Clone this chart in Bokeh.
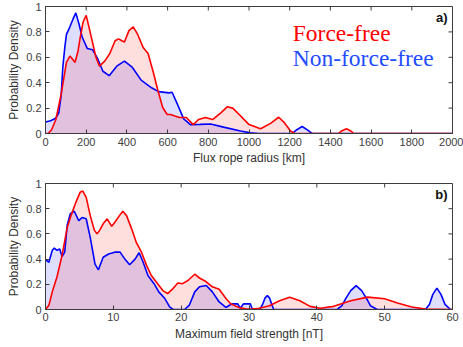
import math
from bokeh.plotting import figure
from bokeh.models import Range1d, FixedTicker, Label
from bokeh.layouts import column
from bokeh.embed import file_html
from bokeh.resources import INLINE

# ---- panel a: flux rope radius [km]
radius_ff_x = [0, 12, 30, 51, 77, 103, 120, 135, 145, 160, 171, 185, 200, 222, 248, 265, 291, 316,
               342, 359, 375, 388, 410, 431, 453, 479, 504, 530, 552, 576, 598, 615, 632, 658, 692,
               726, 752, 786, 821, 863, 893, 920, 958, 1000, 1057, 1106, 1146, 1171, 1204, 1225,
               1440, 1455, 1479, 1500, 1515, 2000]
radius_ff_y = [0, 0, 0.03, 0.11, 0.31, 0.56, 0.61, 0.58, 0.56, 0.65, 0.76, 0.88, 0.93, 0.78, 0.6,
               0.53, 0.57, 0.63, 0.73, 0.745, 0.73, 0.72, 0.81, 0.84, 0.78, 0.68, 0.63, 0.48, 0.34,
               0.205, 0.15, 0.15, 0.14, 0.126, 0.126, 0.07, 0.11, 0.126, 0.11, 0.165, 0.21, 0.2,
               0.14, 0.07, 0.037, 0.08, 0.128, 0.09, 0.02, 0, 0, 0.02, 0.037, 0.02, 0, 0]
radius_nff_x = [0, 25, 50, 65, 77, 85, 95, 103, 120, 135, 149, 165, 180, 205, 231, 256, 282, 313,
                350, 388, 427, 470, 521, 556, 607, 622, 647, 679, 712, 760, 811, 875, 958, 1007,
                1050, 1212, 1235, 1261, 1285, 1310, 2000]
radius_nff_y = [0.09, 0.1, 0.12, 0.16, 0.3, 0.52, 0.68, 0.78, 0.84, 0.9, 0.95, 0.86, 0.76, 0.67,
                0.66, 0.59, 0.49, 0.455, 0.53, 0.57, 0.52, 0.42, 0.36, 0.33, 0.32, 0.325, 0.235,
                0.115, 0.07, 0.072, 0.075, 0.05, 0.02, 0.005, 0, 0, 0.03, 0.055, 0.03, 0, 0]
radius_ticks = [0, 200, 400, 600, 800, 1000, 1200, 1400, 1600, 1800, 2000]

# ---- panel b: maximum field strength [nT]
field_ff_x = [0, 0.5, 1.0, 1.7, 2.44, 3.2, 3.76, 4.4, 5.1, 5.5, 6.0, 6.6, 7.2, 7.6, 8.0, 8.5, 9.1,
              9.75, 10.2, 10.9, 11.4, 11.95, 12.7, 13.4, 14.15, 14.9, 15.6, 16.3, 17.3, 18.0, 18.8,
              19.5, 20.2, 21.0, 22.0, 22.7, 23.7, 24.6, 25.6, 26.6, 27.3, 28.5, 29.5, 30.5, 31.5,
              33.0, 34.5, 36.0, 37.5, 39.0, 40.5, 42.5, 45.0, 47.5, 50.0, 52.0, 54.0, 56.0, 60]
field_ff_y = [0, 0.034, 0.14, 0.26, 0.43, 0.65, 0.745, 0.84, 0.93, 0.94, 0.89, 0.745, 0.63, 0.6,
              0.63, 0.68, 0.72, 0.66, 0.69, 0.745, 0.78, 0.745, 0.64, 0.53, 0.455, 0.35, 0.27, 0.22,
              0.15, 0.126, 0.166, 0.21, 0.205, 0.23, 0.28, 0.25, 0.22, 0.18, 0.16, 0.087, 0.045,
              0.016, 0.005, 0.003, 0.01, 0.03, 0.07, 0.097, 0.07, 0.025, 0.01, 0.025, 0.07, 0.098,
              0.085, 0.05, 0.02, 0.003, 0]
field_nff_x = [0, 0.5, 1.0, 1.3, 1.7, 2.1, 2.44, 2.83, 3.2, 3.66, 4.24, 4.9, 5.4, 6.0, 6.6, 7.3,
               7.8, 8.5, 9.3, 10.2, 11.0, 11.7, 12.4, 13.2, 13.8, 14.4, 15.1, 16.0, 16.7, 17.6,
               18.3, 18.8, 20.5, 21.2, 22.0, 22.7, 23.7, 24.6, 25.6, 26.6, 27.0, 27.5, 28.35, 28.7,
               29.2, 30.2, 30.5, 31.6, 32.0, 32.35, 32.7, 33.05, 33.35, 33.65, 43.0, 43.7, 44.3,
               45.0, 45.8, 46.6, 47.3, 47.9, 48.9, 56.0, 56.6, 57.1, 57.7, 58.3, 58.9, 59.7, 60]
field_nff_y = [0.395, 0.375, 0.47, 0.487, 0.47, 0.48, 0.42, 0.455, 0.67, 0.76, 0.78, 0.705, 0.73,
               0.72, 0.57, 0.36, 0.315, 0.415, 0.44, 0.455, 0.455, 0.40, 0.355, 0.40, 0.45, 0.375,
               0.27, 0.205, 0.14, 0.087, 0.02, 0, 0, 0.034, 0.14, 0.18, 0.19, 0.14, 0.06, 0.016,
               0.03, 0.045, 0.045, 0.01, 0.045, 0.045, 0, 0, 0.04, 0.09, 0.11, 0.09, 0.04, 0, 0,
               0.03, 0.09, 0.15, 0.19, 0.15, 0.09, 0.03, 0, 0, 0.04, 0.12, 0.17, 0.12, 0.04, 0, 0]
field_ticks = [0, 10, 20, 30, 40, 50, 60]

density_ticks = [0, 0.2, 0.4, 0.6, 0.8, 1]
density_labels = {0: "0", 0.2: "0.2", 0.4: "0.4", 0.6: "0.6", 0.8: "0.8", 1: "1"}

RED = "#ff0000"
BLUE = "#0000ff"
AX = "#3c3c3c"


def make_panel(height, x_end, xticks, xlabel, xs_nff, ys_nff, xs_ff, ys_ff, tag, top_border,
               bottom_border, label_standoff, title_standoff):
    p = figure(width=463, height=height, title=None, output_backend="svg", toolbar_location=None,
               x_range=Range1d(0, x_end), y_range=Range1d(0, 1),
               min_border_left=45, min_border_right=11, min_border_top=top_border,
               min_border_bottom=bottom_border)
    p.grid.visible = False
    p.outline_line_color = AX

    p.varea(x=xs_nff, y1=0, y2=ys_nff, fill_color=BLUE, fill_alpha=0.13)
    p.varea(x=xs_ff, y1=0, y2=ys_ff, fill_color=RED, fill_alpha=0.13)
    p.line(xs_nff, ys_nff, line_color=BLUE, line_width=1.6)
    p.line(xs_ff, ys_ff, line_color=RED, line_width=1.6)

    # inward ticks on the top and right edges (MATLAB box style)
    p.ray(x=xticks, y=[1] * len(xticks), length=4, length_units="screen",
          angle=-math.pi / 2, line_color=AX, line_width=1)
    p.ray(x=[x_end] * len(density_ticks), y=density_ticks, length=4, length_units="screen",
          angle=math.pi, line_color=AX, line_width=1)

    for ax in (p.xaxis[0], p.yaxis[0]):
        ax.major_tick_in = 4
        ax.major_tick_out = 0
        ax.minor_tick_line_color = None
        ax.axis_line_color = AX
        ax.major_tick_line_color = AX
        ax.major_label_text_font = "Liberation Sans"
        ax.major_label_text_font_size = "11px"
        ax.major_label_text_color = "#404040"
        ax.axis_label_text_font = "Liberation Sans"
        ax.axis_label_text_font_size = "12px"
        ax.axis_label_text_font_style = "normal"
        ax.axis_label_text_color = "#333333"
    p.xaxis.ticker = FixedTicker(ticks=xticks)
    p.xaxis.axis_label = xlabel
    p.xaxis.major_label_standoff = label_standoff
    p.xaxis.axis_label_standoff = title_standoff
    p.yaxis.ticker = FixedTicker(ticks=density_ticks)
    p.yaxis.major_label_overrides = density_labels
    p.yaxis.axis_label = "Probability Density"
    p.yaxis.major_label_standoff = 4
    p.yaxis.axis_label_standoff = 2

    p.add_layout(Label(x=x_end * 0.988, y=0.975, text=tag, text_align="right",
                       text_baseline="top", text_font="Liberation Sans",
                       text_font_style="bold", text_font_size="13px", text_color="#111111"))
    return p


p1 = make_panel(170, 2000, radius_ticks, "Flux rope radius [km]",
                radius_nff_x, radius_nff_y, radius_ff_x, radius_ff_y, "a)", 6, 37, 4, 2)
p1.add_layout(Label(x=1215, y=0.795, text="Force-free", text_font="Liberation Serif",
                    text_font_size="23.5px", text_color="#ff0000", text_baseline="alphabetic"))
p1.add_layout(Label(x=1215, y=0.598, text="Non-force-free", text_font="Liberation Serif",
                    text_font_size="23.5px", text_color="#1f4dff", text_baseline="alphabetic"))

p2 = make_panel(177, 60, field_ticks, "Maximum field strength [nT]",
                field_nff_x, field_nff_y, field_ff_x, field_ff_y, "b)", 13, 38, 3, 3)

layout = column(p1, p2, spacing=0)
open("out.html", "w").write(file_html(layout, INLINE))
